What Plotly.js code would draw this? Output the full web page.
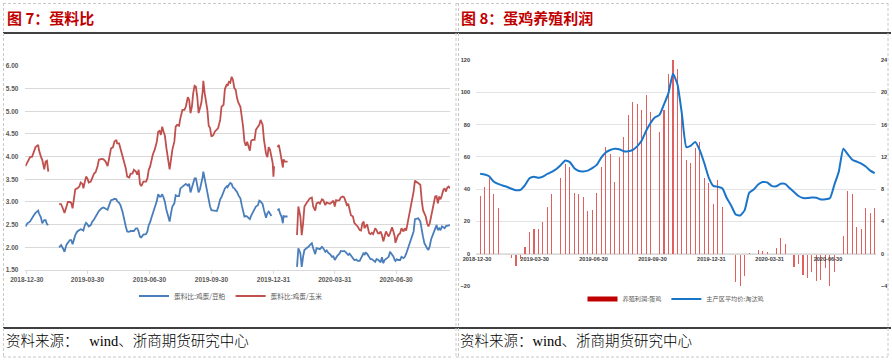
<!DOCTYPE html>
<html><head><meta charset="utf-8">
<script src="https://cdn.plot.ly/plotly-3.0.1.min.js"></script>
<style>html,body{margin:0;padding:0;background:#fff}#chart{width:892px;height:361px}</style>
</head><body><div id="chart"></div>
<script>
// ---------- Figure 7: egg / feed ratio (daily) ----------
const ratioDates = [
'2018-12-28','2018-12-31','2019-01-04','2019-01-07','2019-01-10','2019-01-12','2019-01-16','2019-01-17','2019-01-20','2019-01-22','2019-01-25','2019-01-27','2019-01-29','2019-01-31','2019-02-08',
'2019-02-16','2019-02-19','2019-02-22','2019-02-24','2019-02-27','2019-03-01','2019-03-04','2019-03-06','2019-03-08','2019-03-10','2019-03-12','2019-03-15','2019-03-18','2019-03-20','2019-03-23','2019-03-24','2019-03-26','2019-03-28','2019-03-30',
'2019-04-01','2019-04-04','2019-04-06','2019-04-09','2019-04-11','2019-04-14','2019-04-16','2019-04-20','2019-04-23','2019-04-26','2019-04-29',
'2019-05-01','2019-05-04','2019-05-07','2019-05-09','2019-05-12','2019-05-13','2019-05-16','2019-05-18','2019-05-21','2019-05-23','2019-05-26','2019-05-28','2019-05-31',
'2019-06-02','2019-06-05','2019-06-07','2019-06-10','2019-06-12','2019-06-14','2019-06-16','2019-06-18','2019-06-21','2019-06-25','2019-06-27','2019-06-29',
'2019-07-01','2019-07-03','2019-07-05','2019-07-08','2019-07-11','2019-07-13','2019-07-15','2019-07-17','2019-07-19','2019-07-21','2019-07-23','2019-07-25','2019-07-28','2019-07-30',
'2019-08-01','2019-08-03','2019-08-06','2019-08-08','2019-08-10','2019-08-13','2019-08-15','2019-08-18','2019-08-21','2019-08-23','2019-08-26','2019-08-28','2019-08-30',
'2019-09-01','2019-09-03','2019-09-05','2019-09-07','2019-09-09','2019-09-11','2019-09-13','2019-09-15','2019-09-17','2019-09-18','2019-09-20','2019-09-22','2019-09-24','2019-09-26','2019-09-28','2019-09-30',
'2019-10-03','2019-10-05','2019-10-08','2019-10-10','2019-10-13','2019-10-15','2019-10-18','2019-10-20','2019-10-23','2019-10-24','2019-10-26','2019-10-28','2019-10-30',
'2019-11-01','2019-11-03','2019-11-05','2019-11-07','2019-11-09','2019-11-12','2019-11-14','2019-11-16','2019-11-18','2019-11-20','2019-11-22','2019-11-24','2019-11-26','2019-11-28','2019-11-30',
'2019-12-03','2019-12-05','2019-12-08','2019-12-10','2019-12-12','2019-12-15','2019-12-17','2019-12-19','2019-12-20','2019-12-22','2019-12-24','2019-12-26','2019-12-28','2019-12-30','2019-12-31',
'2020-01-01','2020-01-03','2020-01-06','2020-01-08','2020-01-10','2020-01-12','2020-01-14','2020-01-15','2020-01-17','2020-01-21','2020-01-27',
'2020-02-04','2020-02-06','2020-02-09','2020-02-11','2020-02-13','2020-02-15','2020-02-18','2020-02-21','2020-02-23','2020-02-26','2020-02-28',
'2020-03-02','2020-03-04','2020-03-07','2020-03-09','2020-03-12','2020-03-14','2020-03-17','2020-03-19','2020-03-22','2020-03-24','2020-03-27','2020-03-29','2020-03-31',
'2020-04-02','2020-04-04','2020-04-07','2020-04-09','2020-04-12','2020-04-14','2020-04-16','2020-04-18','2020-04-20','2020-04-22','2020-04-24','2020-04-27','2020-04-29',
'2020-05-02','2020-05-04','2020-05-07','2020-05-09','2020-05-11','2020-05-13','2020-05-14','2020-05-16','2020-05-18','2020-05-21','2020-05-23','2020-05-25','2020-05-27','2020-05-30',
'2020-06-01','2020-06-03','2020-06-05','2020-06-07','2020-06-09','2020-06-11','2020-06-13','2020-06-15','2020-06-17','2020-06-19','2020-06-21','2020-06-24','2020-06-26','2020-06-28','2020-06-29',
'2020-07-01','2020-07-03','2020-07-06','2020-07-08','2020-07-11','2020-07-13','2020-07-15','2020-07-17','2020-07-20','2020-07-22','2020-07-24','2020-07-26','2020-07-28','2020-07-31',
'2020-08-02','2020-08-05','2020-08-07','2020-08-09','2020-08-11','2020-08-13','2020-08-15','2020-08-17','2020-08-19','2020-08-21','2020-08-23','2020-08-25','2020-08-27','2020-08-29','2020-08-31',
'2020-09-02','2020-09-04','2020-09-06','2020-09-08','2020-09-10','2020-09-12','2020-09-14','2020-09-16','2020-09-18'];

// 蛋料比:鸡蛋/玉米 (red)
const ratioEggCorn = [
3.79,3.89,3.99,4.00,4.11,4.21,4.26,4.15,4.00,3.93,3.72,3.89,3.91,3.67,null,
2.96,2.95,2.84,2.76,2.90,3.00,3.00,2.98,2.86,3.04,3.28,3.30,3.34,3.43,3.39,3.30,3.45,3.56,3.52,
3.43,3.45,3.52,3.63,3.65,3.78,3.93,3.95,3.94,3.89,3.79,
3.96,4.18,4.21,4.33,4.37,4.29,4.29,4.18,4.07,3.94,3.74,3.56,3.54,
3.62,3.63,3.71,3.67,3.60,3.71,3.40,3.35,3.45,3.45,3.52,3.71,
3.78,3.93,4.04,4.16,4.33,4.55,4.57,4.48,4.66,4.55,4.46,4.21,3.93,3.72,
3.93,4.15,4.33,4.66,4.70,4.68,4.85,5.03,5.03,5.10,5.31,5.25,4.96,
5.10,5.40,5.56,5.54,5.32,4.96,5.07,5.18,5.43,5.67,5.40,5.25,5.03,4.68,4.63,4.44,
4.48,4.55,4.60,4.63,4.81,5.10,5.14,5.49,5.60,5.56,5.65,5.63,5.76,
5.69,5.51,5.47,5.29,5.19,5.10,4.92,4.66,4.33,4.24,4.33,4.24,4.13,4.35,4.37,
4.37,4.59,4.66,4.70,4.81,4.70,4.37,4.15,4.07,3.99,4.21,4.15,4.00,3.85,3.56,
3.79,null,4.21,4.26,4.11,3.96,3.76,3.94,3.89,3.89,null,
2.27,2.90,2.68,2.27,2.53,2.90,2.97,3.04,3.08,3.10,2.90,
2.81,2.97,2.99,2.96,3.06,3.04,2.93,2.99,2.97,2.96,3.00,3.03,2.90,
3.04,3.03,3.04,3.10,3.12,3.10,3.00,2.93,2.96,2.82,2.71,2.68,2.54,
2.49,2.46,2.38,2.37,2.53,2.57,2.42,2.46,2.51,2.31,2.29,2.32,2.29,2.42,
2.38,2.31,2.31,2.35,2.27,2.13,2.27,2.35,2.29,2.24,2.31,2.44,2.35,2.24,2.10,
2.20,2.27,2.31,2.42,2.35,2.42,2.37,2.53,2.68,2.90,3.00,3.23,3.47,3.43,
3.40,3.38,3.04,2.82,2.75,2.68,2.53,2.46,2.53,2.68,2.75,2.91,3.12,3.13,2.97,
3.12,3.06,3.15,3.26,3.30,3.23,3.32,3.34,3.30];

// 蛋料比:鸡蛋/豆粕 (blue)
const ratioEggMeal = [
2.46,2.53,2.57,2.66,2.72,2.76,2.81,2.75,2.66,2.53,2.60,2.60,2.51,2.49,null,
2.00,2.05,1.97,1.90,2.06,2.10,2.16,2.16,2.07,2.17,2.27,2.35,2.37,2.40,2.38,2.37,2.48,2.54,2.51,
2.46,2.49,2.56,2.62,2.67,2.75,2.80,2.86,2.88,2.85,2.83,
2.92,3.04,3.05,3.07,3.06,3.02,2.98,2.93,2.79,2.62,2.46,2.35,2.34,
2.36,2.36,2.36,2.42,2.42,2.35,2.23,2.22,2.28,2.29,2.35,2.49,
2.55,2.65,2.75,2.85,3.02,3.17,3.12,3.12,3.17,3.10,3.00,2.84,2.67,2.57,
2.75,2.90,2.97,3.15,3.13,3.13,3.30,3.34,3.36,3.40,3.36,3.40,3.21,
3.30,3.42,3.52,3.52,3.35,3.21,3.28,3.39,3.55,3.67,3.50,3.35,3.19,2.98,2.90,2.82,
2.81,2.82,2.80,2.88,3.06,3.11,3.23,3.30,3.35,3.33,3.38,3.42,3.40,
3.32,3.30,3.27,3.22,3.15,3.08,2.93,2.76,2.68,2.69,2.68,2.65,2.62,2.70,2.75,
2.85,2.90,2.93,3.03,3.01,2.95,2.82,2.69,2.65,2.75,2.79,2.74,2.69,null,null,
null,null,2.82,2.84,2.74,2.68,2.53,2.69,2.68,2.68,null,
1.57,1.98,1.87,1.57,1.79,1.94,1.98,2.01,2.05,2.09,1.98,
1.85,1.98,1.96,1.96,2.01,1.98,1.90,1.93,1.87,1.85,1.79,1.80,1.72,
1.78,1.82,1.86,1.92,1.91,1.92,1.90,1.86,1.83,1.86,1.82,1.75,1.72,
1.73,1.70,1.70,1.75,1.83,1.88,1.83,1.88,1.86,1.77,1.74,1.74,1.72,1.68,
1.74,1.73,1.70,1.67,1.78,1.65,1.72,1.75,1.77,1.79,1.90,1.83,1.80,1.72,1.70,
1.74,1.72,1.72,1.79,1.76,1.79,1.86,1.95,2.04,2.16,2.27,2.35,2.62,2.64,
2.64,2.57,2.35,2.23,2.09,2.02,1.98,1.94,2.03,2.18,2.27,2.33,2.42,2.49,2.38,
2.42,2.38,2.46,2.44,2.42,2.47,2.48,2.49,2.49];

// ---------- Figure 8: layer farming profit (weekly) ----------
const weekDates = [
'2019-01-04','2019-01-11','2019-01-18','2019-01-25','2019-02-01','2019-02-08','2019-02-15','2019-02-22',
'2019-03-01','2019-03-08','2019-03-15','2019-03-22','2019-03-29','2019-04-05','2019-04-12','2019-04-19','2019-04-26',
'2019-05-03','2019-05-10','2019-05-17','2019-05-24','2019-05-31','2019-06-07','2019-06-14','2019-06-21','2019-06-28',
'2019-07-05','2019-07-12','2019-07-19','2019-07-26','2019-08-02','2019-08-09','2019-08-16','2019-08-23','2019-08-30',
'2019-09-06','2019-09-13','2019-09-20','2019-09-27','2019-10-04','2019-10-11','2019-10-18','2019-10-25',
'2019-11-01','2019-11-08','2019-11-15','2019-11-22','2019-11-29','2019-12-06','2019-12-13','2019-12-20','2019-12-27',
'2020-01-03','2020-01-10','2020-01-17','2020-01-24','2020-01-31','2020-02-07','2020-02-14','2020-02-21','2020-02-28',
'2020-03-06','2020-03-13','2020-03-20','2020-03-27','2020-04-03','2020-04-10','2020-04-17','2020-04-24',
'2020-05-01','2020-05-08','2020-05-15','2020-05-22','2020-05-29','2020-06-05','2020-06-12','2020-06-19','2020-06-26',
'2020-07-03','2020-07-10','2020-07-17','2020-07-24','2020-07-31','2020-08-07','2020-08-14','2020-08-21','2020-08-28',
'2020-09-04','2020-09-11'];

// 养殖利润:蛋鸡 (left axis)
const layerProfit = [
36,41.4,47.2,36.7,28.5,null,null,-2.9,
-7.4,-3.3,4.3,13.6,15.5,15.5,19.4,28.9,37.1,
null,47,55.3,53.8,37.9,37.1,35.3,26.4,27,
37.7,53.8,65.8,61.9,44.7,60.2,72.4,86,94,
92.8,88.9,98.6,87.6,null,75.7,89,111.6,
120,114.4,86.6,58,56,65.3,69.5,46.7,43.7,
30.5,45.8,28.9,null,null,-17.5,-20,-14.0,0.6,
-0.4,2.5,1.6,1.2,null,3.7,9.5,6.2,
-0.8,-8.2,-6.6,-13.2,-15.3,-11.5,-16.7,-16.3,-9.1,
-20,-11.1,null,10.7,39,37.1,16.7,15.3,28.5,
25,28.2];

// 主产区平均价:淘汰鸡 (right axis)
const cullHenPrice = [
9.92,9.82,9.6,8.95,8.65,8.45,8.27,8.05,
7.86,7.92,8.5,9.35,9.55,9.4,9.55,9.9,10.15,
10.5,11.0,11.55,11.35,10.6,10.25,10.2,10.3,10.6,
11.0,11.9,12.55,12.85,13.0,12.95,12.7,12.7,12.85,
13.3,14.0,15.2,16.2,16.9,17.2,18.5,19.9,
22.3,21.0,17.3,13.2,13.4,13.85,12.8,11.2,9.4,
8.4,8.3,8.1,6.9,5.95,4.85,4.74,5.4,7.55,
7.95,8.58,8.88,8.83,8.41,8.35,8.66,8.66,
8.15,7.65,7.15,6.9,6.89,6.95,6.93,6.72,6.74,
6.87,8.55,10.2,13.0,12.3,11.65,11.4,11.15,10.8,
10.3,9.98];

const tickDates = ['2018-12-30','2019-03-30','2019-06-30','2019-09-30','2019-12-31','2020-03-31','2020-06-30'];
const ratioTicks = [1.5,2.0,2.5,3.0,3.5,4.0,4.5,5.0,5.5,6.0];
const profitTicks = [-20,0,20,40,60,80,100,120];
const priceTicks = [-4,0,4,8,12,16,20,24];

// ---------- layout helpers (pixel -> paper) ----------
const W = 892, H = 361;
const px = v => v / W;
const py = v => 1 - v / H;

const cjk = 'Noto Sans CJK SC, sans-serif';
const tickFontL = {family:'Liberation Sans, Arial', size:6.5, color:'#595959', weight:'bold'};
const tickFontR = {family:'Liberation Sans, Arial', size:5.6, color:'#404040', weight:'bold'};

const yR0 = py(286), yR1 = py(60);
const zeroPos = yR0 + (yR1 - yR0) * (0 - (-20)) / 140;

const traces = [
  {x: ratioDates, y: ratioEggMeal, type:'scatter', mode:'lines', name:'蛋料比:鸡蛋/豆粕',
   line:{color:'#4a7ebb', width:1.8}, connectgaps:false, xaxis:'x', yaxis:'y', legend:'legend'},
  {x: ratioDates, y: ratioEggCorn, type:'scatter', mode:'lines', name:'蛋料比:鸡蛋/玉米',
   line:{color:'#c0504d', width:1.8}, connectgaps:false, xaxis:'x', yaxis:'y', legend:'legend'},
  {x: weekDates, y: layerProfit, type:'bar', name:'养殖利润:蛋鸡', showlegend:false,
   marker:{color:'#e06060', line:{width:0}}, width: 1.7*86400000, xaxis:'x2', yaxis:'y2', legend:'legend2'},
  // legend key only (flat red swatch like the original)
  {x:[null], y:[null], type:'scatter', mode:'lines', name:'养殖利润:蛋鸡',
   line:{color:'#c00000', width:5}, xaxis:'x2', yaxis:'y2', legend:'legend2'},
  {x: weekDates, y: cullHenPrice, type:'scatter', mode:'lines', name:'主产区平均价:淘汰鸡',
   line:{color:'#1a75c8', width:2, shape:'spline', smoothing:0.5}, xaxis:'x2', yaxis:'y3', legend:'legend2'}
];

const dashLine = {color:'#c8c8c8', width:1, dash:'3px,2px'};
const shapes = [
  {type:'line', xref:'paper', yref:'paper', x0:px(3), x1:px(891), y0:py(33), y1:py(33), line:{color:'#000', width:1.5}},
  {type:'line', xref:'paper', yref:'paper', x0:px(3), x1:px(891), y0:py(328), y1:py(328), line:{color:'#000', width:1.5}},
  {type:'line', xref:'paper', yref:'paper', x0:px(3.5), x1:px(3.5), y0:py(3), y1:py(357), line:dashLine},
  {type:'line', xref:'paper', yref:'paper', x0:px(3), x1:px(452), y0:py(3.5), y1:py(3.5), line:dashLine},
  {type:'line', xref:'paper', yref:'paper', x0:px(3), x1:px(452), y0:py(357), y1:py(357), line:dashLine},
  {type:'line', xref:'paper', yref:'paper', x0:px(456), x1:px(456), y0:py(3), y1:py(357), line:dashLine},
  {type:'line', xref:'paper', yref:'paper', x0:px(458.5), x1:px(458.5), y0:py(3), y1:py(357), line:dashLine},
  {type:'line', xref:'paper', yref:'paper', x0:px(888), x1:px(888), y0:py(3), y1:py(357), line:dashLine},
  {type:'line', xref:'paper', yref:'paper', x0:px(456), x1:px(888), y0:py(3.5), y1:py(3.5), line:dashLine},
  {type:'line', xref:'paper', yref:'paper', x0:px(456), x1:px(888), y0:py(357), y1:py(357), line:dashLine}
];

const srcFont = {family:'Liberation Serif, ' + cjk, size:14.5, color:'#000', weight:300};
const annotations = [
  {text:'图 7：蛋料比', xref:'paper', yref:'paper', x:px(5), y:py(18), xanchor:'left', yanchor:'middle', showarrow:false,
   font:{family:cjk, size:15, color:'#c00000', weight:'bold'}},
  {text:'图 8：蛋鸡养殖利润', xref:'paper', yref:'paper', x:px(459), y:py(18), xanchor:'left', yanchor:'middle', showarrow:false,
   font:{family:cjk, size:15, color:'#c00000', weight:'bold'}},
  {text:'资料来源：\u00a0\u00a0\u00a0wind、浙商期货研究中心', xref:'paper', yref:'paper', x:px(4), y:py(341), xanchor:'left', yanchor:'middle', showarrow:false,
   font:srcFont},
  {text:'资料来源：wind、浙商期货研究中心', xref:'paper', yref:'paper', x:px(458), y:py(341), xanchor:'left', yanchor:'middle', showarrow:false,
   font:srcFont}
];

const layout = {
  width:W, height:H, margin:{l:0,r:0,t:0,b:0},
  paper_bgcolor:'#fff', plot_bgcolor:'#fff',
  showlegend:true, bargap:0,
  xaxis:{domain:[px(25.4), px(450)], anchor:'y', type:'date', range:['2018-12-28','2020-09-18'],
    tickmode:'array', tickvals:tickDates, ticktext:tickDates, tickfont:tickFontL,
    showgrid:false, showline:true, linecolor:'#d9d9d9', linewidth:1, ticks:'outside', ticklen:3, tickcolor:'#d9d9d9',
    zeroline:false, fixedrange:true},
  yaxis:{domain:[py(270), py(65.7)], anchor:'x', range:[1.5, 6.005], tickmode:'array', tickvals:ratioTicks,
    ticktext:ratioTicks.map(v => v.toFixed(2)), tickfont:tickFontL, gridcolor:'#d9d9d9', gridwidth:1,
    zeroline:false, showline:false, ticks:'', ticklabelstandoff:6, fixedrange:true},
  xaxis2:{domain:[px(476), px(876)], anchor:'free', position:zeroPos, type:'date',
    range:['2018-12-28 12:00','2020-09-13'], tickmode:'array', tickvals:tickDates, ticktext:tickDates,
    tickfont:tickFontR, showgrid:false, showline:true, linecolor:'#d9d9d9', linewidth:1, ticks:'',
    zeroline:false, fixedrange:true},
  yaxis2:{domain:[yR0, yR1], anchor:'x2', range:[-20, 120], tickmode:'array', tickvals:profitTicks,
    tickfont:tickFontR, gridcolor:'#e4e4e4', gridwidth:1, zeroline:false, showline:false, ticks:'',
    ticklabelstandoff:5, fixedrange:true},
  yaxis3:{overlaying:'y2', anchor:'x2', side:'right', range:[-4, 24], tickmode:'array', tickvals:priceTicks,
    tickfont:tickFontR, showgrid:false, zeroline:false, showline:false, ticks:'', ticklabelstandoff:4, fixedrange:true},
  legend:{x:px(231), y:py(296), xanchor:'center', yanchor:'middle', orientation:'h',
    font:{family:cjk, size:6.7, color:'#595959'}, bgcolor:'rgba(0,0,0,0)', itemwidth:30, traceorder:'normal'},
  legend2:{x:px(676), y:py(299), xanchor:'center', yanchor:'middle', orientation:'h',
    font:{family:cjk, size:6.2, color:'#595959'}, bgcolor:'rgba(0,0,0,0)', itemwidth:30, traceorder:'normal'},
  shapes:shapes, annotations:annotations
};

Plotly.newPlot('chart', traces, layout, {staticPlot:true, displayModeBar:false});
</script>
</body></html>
